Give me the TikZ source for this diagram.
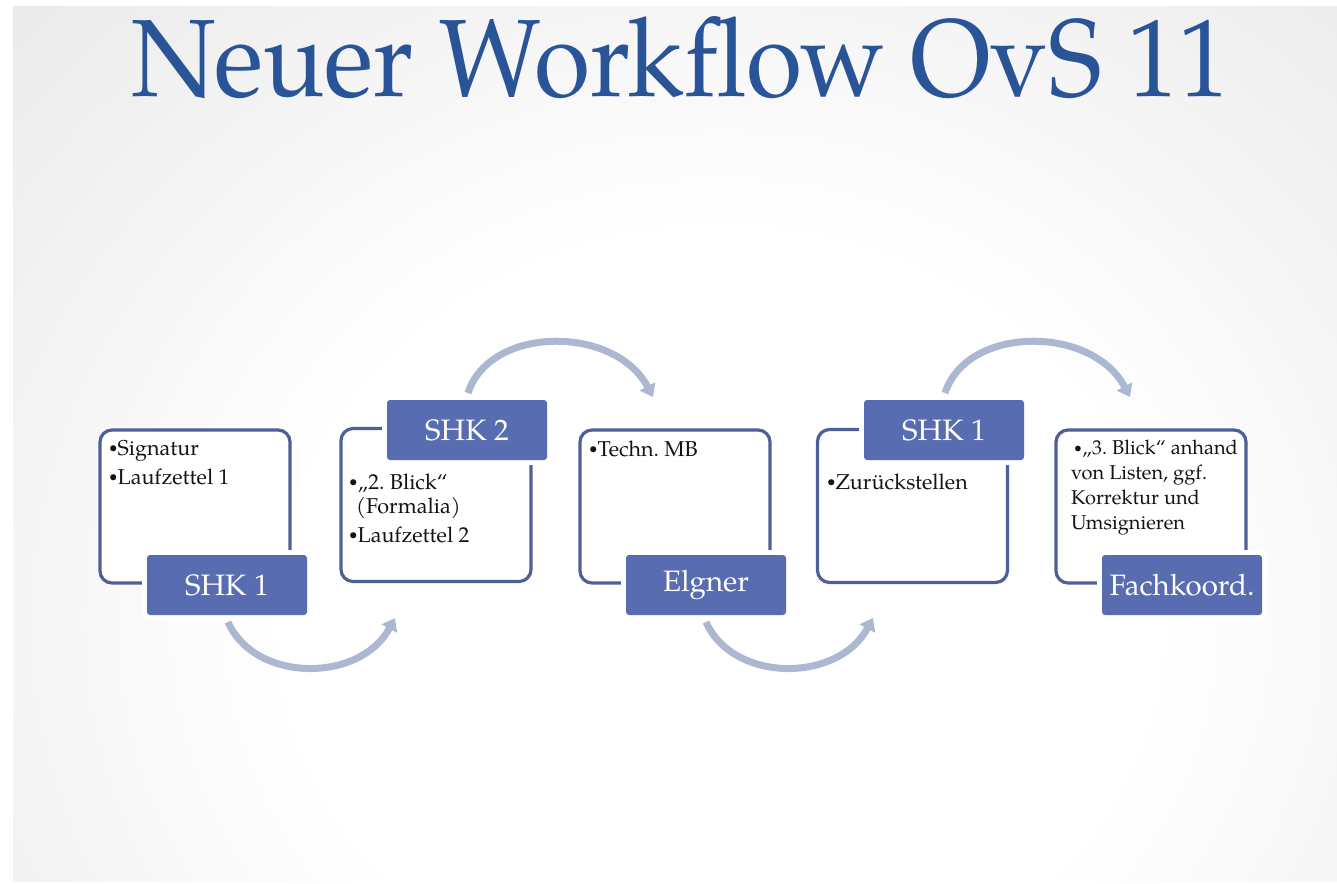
\documentclass[tikz,border=0pt]{standalone}
\usepackage{fontspec}
\setmainfont{TeX Gyre Pagella}
\usetikzlibrary{arrows.meta}
\frenchspacing
\definecolor{titlec}{RGB}{42,84,152}
\definecolor{boxc}{RGB}{79,96,152}
\definecolor{labc}{RGB}{88,109,177}
\definecolor{arrc}{RGB}{172,184,210}
\definecolor{txtc}{RGB}{20,20,20}
\definecolor{bgedge}{gray}{0.80}
\pgfdeclareradialshading{bgshade}{\pgfpoint{0bp}{0bp}}{color(0bp)=(white); color(12bp)=(white); color(50bp)=(bgedge); color(80bp)=(bgedge)}
\newcommand{\bul}{\raisebox{0.1em}{\scalebox{0.7}{•}}}
\tikzset{
  box/.style={draw=boxc, line width=3.2pt, rounded corners=12pt, fill=white,
    minimum width=190pt, minimum height=153pt, inner sep=0pt},
  lab/.style={fill=labc, rounded corners=3pt, minimum width=160pt, minimum height=60pt,
    inner sep=0pt, text=white, font=\fontsize{29.5}{32}\selectfont,
    preaction={draw=white, line width=10pt}},
  txt/.style={anchor=base west, inner sep=0pt, text=txtc, font=\fontsize{21.5}{24}\selectfont},
  txts/.style={txt, font=\fontsize{20}{23}\selectfont},
  flow/.style={draw=arrc, line width=7pt, -{Triangle[width=17pt,length=12pt]}},
}
\begin{document}
\begin{tikzpicture}[x=1pt,y=-1pt]
\useasboundingbox (0,0) rectangle (1337,883);
\fill[white] (0,0) rectangle (1337,883);
\begin{scope}[y=1pt]
  \clip (13,-7) rectangle (1337,-881);
  \shade[shading=bgshade] (-180,-1420) rectangle (1620,180);
\end{scope}
% title
\node[anchor=base, inner sep=0pt, text=titlec] (title) at (681,96)
  {\resizebox{1097pt}{80pt}{Neuer Workflow OvS 11}};
% arrows
\coordinate (a1s) at (228,622); \coordinate (a1e) at (395,618);
\coordinate (a2s) at (468,393); \coordinate (a2e) at (653,397);
\coordinate (a3s) at (706,622); \coordinate (a3e) at (873,618);
\coordinate (a4s) at (945,393); \coordinate (a4e) at (1130,397);
\draw[flow] (a1s) .. controls (255,683) and (360,683) .. (a1e);
\draw[flow] (a2s) .. controls (490,325) and (615,325) .. (a2e);
\draw[flow] (a3s) .. controls (733,683) and (838,683) .. (a3e);
\draw[flow] (a4s) .. controls (967,325) and (1092,325) .. (a4e);
% boxes
\node[box] (b1) at (195,506.5) {};
\node[box] (b2) at (436,505) {};
\node[box] (b3) at (675,506.5) {};
\node[box] (b4) at (912.5,506) {};
\node[box] (b5) at (1151,506.5) {};
% labels
\node[lab] (l1) at (227,585) {SHK 1};
\node[lab] (l2) at (467,430) {SHK 2};
\node[lab] (l3) at (706,585) {Elgner};
\node[lab] (l4) at (944,430) {SHK 1};
\node[lab] (l5) at (1182,585) {Fachkoord.};
% texts
\node[txt] (t11) at (109,455) {\bul Signatur};
\node[txt] (t12) at (109,484) {\bul Laufzettel 1};
\node[txt] (t21) at (349,489) {\bul„2. Blick“};
\node[txt] (t22) at (356,513) {(Formalia)};
\node[txt] (t23) at (349,542) {\bul Laufzettel 2};
\node[txt] (t31) at (589,456) {\bul Techn. MB};
\node[txt] (t41) at (827,489) {\bul Zurückstellen};
\node[txts] (t51) at (1074,454) {\bul„3. Blick“ anhand};
\node[txts] (t52) at (1071,479) {von Listen, ggf.};
\node[txts] (t53) at (1071,504) {Korrektur und};
\node[txts] (t54) at (1071,529) {Umsignieren};
\end{tikzpicture}
\end{document}
